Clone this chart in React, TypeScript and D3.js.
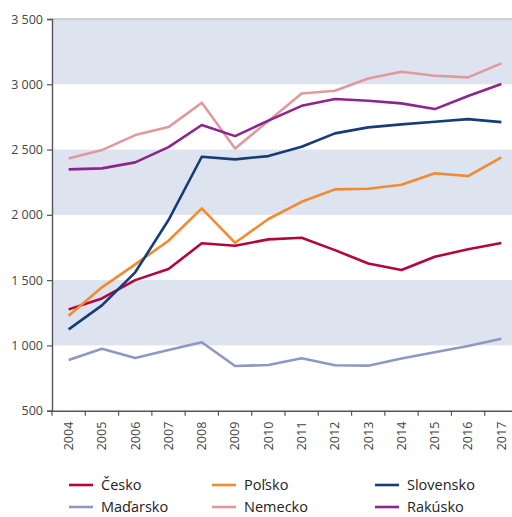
import React, { useEffect, useRef } from 'react';
import * as d3 from 'd3';

const years = ['2004', '2005', '2006', '2007', '2008', '2009', '2010', '2011', '2012', '2013', '2014', '2015', '2016', '2017'];

const cesko = [1276, 1360, 1500, 1585, 1782, 1763, 1812, 1825, 1730, 1628, 1577, 1679, 1736, 1784];
const polsko = [1227, 1445, 1621, 1802, 2050, 1786, 1968, 2100, 2195, 2200, 2230, 2318, 2297, 2440];
const slovensko = [1123, 1307, 1560, 1960, 2445, 2425, 2450, 2521, 2624, 2670, 2693, 2713, 2733, 2710];
const madarsko = [888, 975, 903, 965, 1024, 842, 850, 902, 848, 845, 900, 948, 995, 1051];
const nemecko = [2432, 2496, 2611, 2672, 2858, 2509, 2718, 2930, 2950, 3045, 3096, 3065, 3053, 3160];
const rakusko = [2348, 2356, 2402, 2519, 2688, 2603, 2722, 2835, 2887, 2874, 2854, 2810, 2910, 3002];

const yTicks = [500, 1000, 1500, 2000, 2500, 3000, 3500];
const bands = [[1000, 1500], [2000, 2500], [3000, 3500]];

const series = [
  { name: 'Česko', values: cesko, color: '#b3063f' },
  { name: 'Poľsko', values: polsko, color: '#f28a32' },
  { name: 'Slovensko', values: slovensko, color: '#163c7a' },
  { name: 'Maďarsko', values: madarsko, color: '#8f98c4' },
  { name: 'Nemecko', values: nemecko, color: '#e09a9e' },
  { name: 'Rakúsko', values: rakusko, color: '#8e248f' },
];

const W = 512;
const H = 517;

const App = () => {
  const ref = useRef<SVGSVGElement>(null);

  useEffect(() => {
    const svg = d3.select(ref.current);
    svg.selectAll('*').remove();

    const left = 52, right = 518, top = 19, bottom = 410.7;

    const x = d3.scaleBand().domain(years).range([left, right]);
    const y = d3.scaleLinear().domain([500, 3500]).range([bottom, top]);

    // shaded bands
    svg.append('g')
      .selectAll('rect')
      .data(bands)
      .enter()
      .append('rect')
      .attr('x', left)
      .attr('width', right - left)
      .attr('y', d => y(d[1]))
      .attr('height', d => y(d[0]) - y(d[1]))
      .attr('fill', '#dde3ef');

    // top border line
    svg.append('line')
      .attr('x1', left).attr('x2', right)
      .attr('y1', y(3500)).attr('y2', y(3500))
      .attr('stroke', '#c4c4c4')
      .attr('stroke-width', 1.5);

    const fmt = (v: number) => d3.format(',')(v).replace(',', ' ');

    const yAxis = svg.append('g')
      .attr('transform', `translate(${left},0)`)
      .call(d3.axisLeft(y).tickValues(yTicks).tickFormat(d => fmt(+d)).tickSize(5).tickPadding(4));
    yAxis.select('.domain').attr('stroke', '#555').attr('stroke-width', 1.4);
    yAxis.selectAll('.tick line').attr('stroke', '#555').attr('stroke-width', 1.2);
    yAxis.selectAll('text')
      .attr('fill', '#444')
      .style('font-family', '"Open Sans", sans-serif')
      .style('font-size', '12.5px');

    const xAxis = svg.append('g')
      .attr('transform', `translate(0,${bottom})`)
      .call(d3.axisBottom(x).tickSize(0).tickPadding(0));
    xAxis.select('.domain').attr('stroke', '#555').attr('stroke-width', 1.4);
    xAxis.selectAll('.tick line').remove();
    xAxis.selectAll('text')
      .attr('fill', '#444')
      .attr('transform', 'rotate(-90)')
      .attr('x', -11)
      .attr('y', 0)
      .attr('dy', '0.35em')
      .attr('text-anchor', 'end')
      .style('font-family', '"Open Sans", sans-serif')
      .style('font-size', '12.5px');

    // tick marks at band boundaries
    svg.append('g')
      .selectAll('line')
      .data(years)
      .enter()
      .append('line')
      .attr('x1', d => x(d)!).attr('x2', d => x(d)!)
      .attr('y1', bottom).attr('y2', bottom + 5)
      .attr('stroke', '#555')
      .attr('stroke-width', 1.2);

    const line = d3.line<number>()
      .x((_, i) => x(years[i])! + x.bandwidth() / 2)
      .y(d => y(d));

    svg.append('g')
      .selectAll('path')
      .data(series)
      .enter()
      .append('path')
      .attr('d', d => line(d.values))
      .attr('fill', 'none')
      .attr('stroke', d => d.color)
      .attr('stroke-width', 2.6)
      .attr('stroke-linejoin', 'round');

    // legend
    const colX = [69, 212, 375];
    const rowY = [485, 507];
    const legend = svg.append('g')
      .selectAll('g')
      .data(series)
      .enter()
      .append('g')
      .attr('transform', (_, i) => `translate(${colX[i % 3]},${rowY[Math.floor(i / 3)]})`);
    legend.append('line')
      .attr('x1', 0).attr('x2', 24)
      .attr('stroke', d => d.color)
      .attr('stroke-width', 2.6);
    legend.append('text')
      .attr('x', 32)
      .attr('dy', '0.35em')
      .attr('fill', '#222')
      .style('font-family', '"Open Sans", sans-serif')
      .style('font-size', '14.5px')
      .text(d => d.name);
  }, []);

  return (
    <svg ref={ref} width={W} height={H} style={{ position: 'absolute', left: 0, top: 0, background: '#fff' }}></svg>
  );
};

export default App;
